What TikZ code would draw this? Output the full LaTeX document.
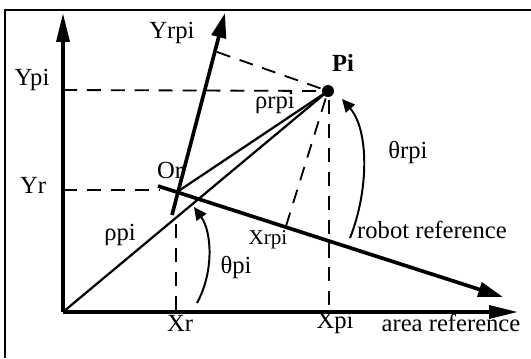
\documentclass[tikz,border=0pt]{standalone}
\usepackage{fontspec}
\setmainfont{Liberation Serif}
\usetikzlibrary{arrows.meta, calc}
\tikzset{
  lbl/.style={inner sep=0pt, font=\fontsize{17.5}{19}\selectfont},
  smalllbl/.style={inner sep=0pt, font=\fontsize{15}{17}\selectfont},
  areaaxis/.style={line width=2.7pt, -{Triangle[length=0.72cm, width=0.32cm]}},
  robotaxis/.style={line width=2.6pt, -{Triangle[length=0.62cm, width=0.36cm]}},
  radius/.style={line width=1.6pt},
  proj/.style={line width=1.3pt, dash pattern=on 10pt off 7pt},
  anglearrow/.style={line width=1.4pt, -{Triangle[length=0.32cm, width=0.3cm]}},
  frameline/.style={line width=1.1pt}
}

\begin{document}
\begin{tikzpicture}[x=0.025cm, y=-0.025cm]
  \useasboundingbox (0,0) rectangle (531,358);

  % ── points ──
  \coordinate (org)    at (63,312);
  \coordinate (xend)   at (518,312);
  \coordinate (yend)   at (63,13);
  \coordinate (orob)   at (177,192);
  \coordinate (xrbeg)  at (158,186);
  \coordinate (xrend)  at (503,297);
  \coordinate (yrbeg)  at (172,215);
  \coordinate (yrend)  at (225,13);
  \coordinate (footy)  at (217,52);
  \coordinate (footx)  at (286,226);

  % ── frame ──
  \draw[frameline] (5,358) -- (5,10) -- (531,10);

  % ── area reference ──
  \draw[areaaxis] (org) -- (xend);
  \draw[areaaxis] (org) -- (yend);

  % ── robot reference ──
  \draw[robotaxis] (xrbeg) -- (xrend);
  \draw[robotaxis] (yrbeg) -- (yrend);

  % ── target point ──
  \fill (328,91) circle (6) coordinate (pi);

  % ── radius lines ──
  \draw[radius] (org) -- (pi);
  \draw[radius] (orob) -- (pi);

  % ── projections ──
  \draw[proj] (63,90) -- (pi);
  \draw[proj] (63,190) -- (160,190);
  \draw[proj] (176,224) -- (176,312);
  \draw[proj] (329,100) -- (329,312);
  \draw[proj] (footy) -- (pi);
  \draw[proj] (footx) -- (pi);

  % ── angles ──
  \draw[anglearrow] (197,303) .. controls (214,272) and (212,232) .. (194,207);
  \draw[anglearrow] (350,238) .. controls (369,190) and (369,130) .. (342,99);

  % ── labels ──
  \node[lbl] (ypi)    at (32,80)   {Ypi};
  \node[lbl] (yr)     at (33,185)  {Yr};
  \node[lbl] (yrpi)   at (172,33)  {Yrpi};
  \node[lbl, font=\fontsize{17.5}{19}\selectfont\bfseries] (pilbl) at (343,63) {Pi};
  \node[lbl] (rhorpi) at (275,103) {ρrpi};
  \node[lbl] (orlbl)  at (170,170) {Or};
  \node[lbl] (rhopi)  at (120,235) {ρpi};
  \node[lbl] (thpi)   at (236,268) {θpi};
  \node[lbl] (xr)     at (180,323) {Xr};
  \node[lbl] (xpi)    at (335,323) {Xpi};
  \node[smalllbl] (xrpi) at (268,240) {Xrpi};
  \node[lbl] (thrpi)  at (408,153) {θrpi};
  \node[lbl] (robref) at (432,230) {robot reference};
  \node[lbl] (arearef) at (451,323) {area reference};

\end{tikzpicture}
\end{document}
